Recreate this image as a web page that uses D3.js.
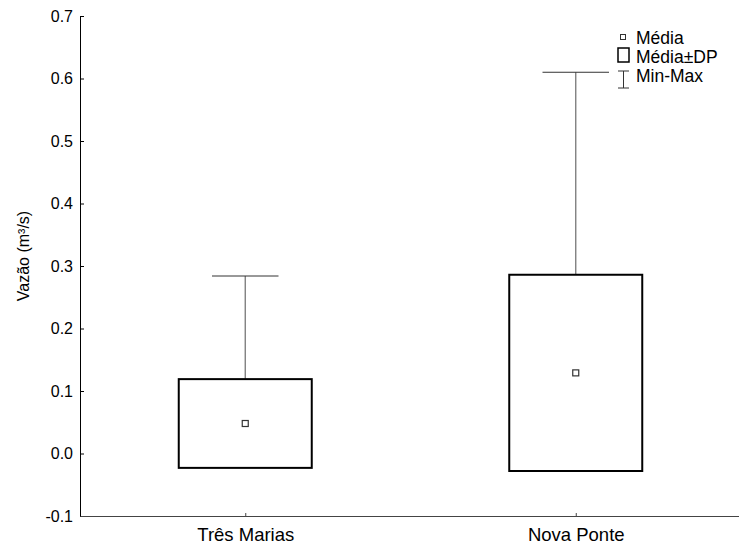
<!DOCTYPE html>
<html>
<head>
<meta charset="utf-8">
<script src="https://cdn.jsdelivr.net/npm/d3@7"></script>
<style>
  body { margin: 0; background: #fff; }
  svg { font-family: "Liberation Sans", Arial, sans-serif; }
</style>
</head>
<body>
<svg id="chart" width="739" height="545"></svg>
<script>
// data
let categories = ['Três Marias', 'Nova Ponte'];
let means = [0.048, 0.129];
let sds = [0.071, 0.157];
let maxs = [0.284, 0.610];
let yTicks = [-0.1, 0.0, 0.1, 0.2, 0.3, 0.4, 0.5, 0.6, 0.7];
let legendLabels = ['Média', 'Média±DP', 'Min-Max'];

let svg = d3.select('#chart');
let plotLeft = 80, plotRight = 741, plotTop = 16, plotBottom = 516;

let x = d3.scalePoint().domain(categories).range([plotLeft, plotRight]).padding(0.5);
let y = d3.scaleLinear().domain([-0.1, 0.7]).range([plotBottom, plotTop]);

let fmt = d3.formatLocale({decimal: '.', thousands: ',', grouping: [3], currency: ['', ''], minus: '-'}).format('.1f');

// y axis, ticks point inward
let yAxis = svg.append('g')
    .attr('transform', 'translate(' + plotLeft + ',0)')
    .call(d3.axisLeft(y).tickValues(yTicks).tickSize(-4).tickSizeOuter(0).tickPadding(7).tickFormat(fmt));
yAxis.select('.domain').attr('stroke', '#000');
yAxis.selectAll('.tick line').attr('stroke', '#000');
yAxis.selectAll('.tick text').attr('font-size', '16px').attr('fill', '#000').attr('font-family', null);

// x axis
let xAxis = svg.append('g')
    .attr('transform', 'translate(0,' + plotBottom + ')')
    .call(d3.axisBottom(x).tickSize(-3).tickSizeOuter(0).tickPadding(12));
xAxis.select('.domain').attr('stroke', '#444');
xAxis.selectAll('.tick line').attr('stroke', '#444');
xAxis.selectAll('.tick text').attr('font-size', '18.5px').attr('fill', '#000').attr('font-family', null);

// y label
svg.append('text')
    .attr('transform', 'translate(29,256) rotate(-90)')
    .attr('text-anchor', 'middle')
    .attr('font-size', '16px')
    .text('Vazão (m³/s)');

let boxW = 133;
let rows = categories.map((c, i) => ({cat: c, mean: means[i], sd: sds[i], max: maxs[i]}));

let g = svg.append('g');

// whiskers from box top to max
g.selectAll('.whisker')
    .data(rows).enter()
    .append('line')
    .attr('x1', d => x(d.cat)).attr('x2', d => x(d.cat))
    .attr('y1', d => y(d.mean + d.sd)).attr('y2', d => y(d.max))
    .attr('stroke', '#777').attr('stroke-width', 1.3);

g.selectAll('.cap')
    .data(rows).enter()
    .append('line')
    .attr('x1', d => x(d.cat) - boxW / 4).attr('x2', d => x(d.cat) + boxW / 4)
    .attr('y1', d => y(d.max)).attr('y2', d => y(d.max))
    .attr('stroke', '#333').attr('stroke-width', 1);

// mean +- sd boxes
g.selectAll('.box')
    .data(rows).enter()
    .append('rect')
    .attr('x', d => x(d.cat) - boxW / 2)
    .attr('width', boxW)
    .attr('y', d => y(d.mean + d.sd))
    .attr('height', d => y(d.mean - d.sd) - y(d.mean + d.sd))
    .attr('fill', 'none').attr('stroke', '#000').attr('stroke-width', 2);

// mean markers
g.selectAll('.mean')
    .data(rows).enter()
    .append('rect')
    .attr('x', d => x(d.cat) - 3).attr('y', d => y(d.mean) - 3)
    .attr('width', 6).attr('height', 6)
    .attr('fill', '#fff').attr('stroke', '#333').attr('stroke-width', 1.2);

// legend
let lg = svg.append('g');
lg.append('rect').attr('x', 620.5).attr('y', 34.5).attr('width', 5).attr('height', 5)
    .attr('fill', '#fff').attr('stroke', '#333').attr('stroke-width', 1);
lg.append('rect').attr('x', 618).attr('y', 48).attr('width', 11).attr('height', 14)
    .attr('fill', 'none').attr('stroke', '#000').attr('stroke-width', 1.5);
lg.append('line').attr('x1', 623.5).attr('x2', 623.5).attr('y1', 71).attr('y2', 88).attr('stroke', '#333');
lg.append('line').attr('x1', 618).attr('x2', 629).attr('y1', 71).attr('y2', 71).attr('stroke', '#333');
lg.append('line').attr('x1', 618).attr('x2', 629).attr('y1', 88).attr('y2', 88).attr('stroke', '#333');
lg.selectAll('.ltext')
    .data(legendLabels).enter()
    .append('text')
    .attr('x', 636).attr('y', (d, i) => 44 + i * 19)
    .attr('font-size', '17.5px')
    .text(d => d);
</script>
</body>
</html>
